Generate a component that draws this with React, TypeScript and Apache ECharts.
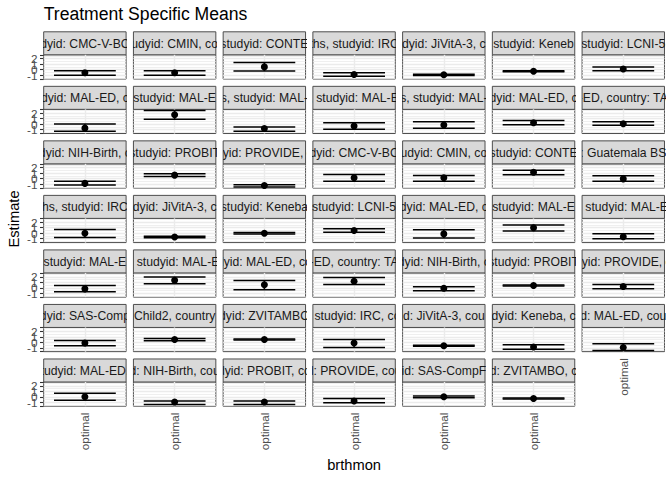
import React, { useEffect, useRef } from "react";
import * as echarts from "echarts";

// ---------- data ----------
const xCategories = ["optimal"];
const yTicks = [-1, 0, 1, 2];
const yMinorLines = [-1.5, -0.5, 0.5, 1.5, 2.5];

const stripLabels = [
  "dyid: CMC-V-BC", "udyid: CMIN, co", "studyid: CONTE", "ths, studyid: IRC", "dyid: JiVitA-3, c", "studyid: Keneb", "studyid: LCNI-5",
  "dyid: MAL-ED, c", "studyid: MAL-E", "s, studyid: MAL-", ", studyid: MAL-E", "s, studyid: MAL-", "dyid: MAL-ED, c", "-ED, country: TA",
  "dyid: NIH-Birth, c", "studyid: PROBIT", "dyid: PROVIDE, c", "dyid: CMC-V-BC", "udyid: CMIN, co", "studyid: CONTE", ": Guatemala BS",
  "hs, studyid: IRC", "dyid: JiVitA-3, c", "studyid: Keneba", "studyid: LCNI-5", "dyid: MAL-ED, c", "studyid: MAL-E", ", studyid: MAL-E",
  "studyid: MAL-E", ", studyid: MAL-E", "dyid: MAL-ED, co", "-ED, country: TA", "dyid: NIH-Birth, c", "studyid: PROBIT", "dyid: PROVIDE, c",
  "dyid: SAS-Comp", "Child2, country", "dyid: ZVITAMBO", ", studyid: IRC, co", "d: JiVitA-3, cou", "dyid: Keneba, c", "d: MAL-ED, cou",
  "tudyid: MAL-ED,", "d: NIH-Birth, cou", "dyid: PROBIT, co", "d: PROVIDE, cou", "id: SAS-CompF", "d: ZVITAMBO, c",
];

const estimates = [
  -0.57, -0.57, 0.5, -0.87, -0.94, -0.3, 0.12,
  -0.72, 1.72, -0.8, -0.35, -0.16, 0.27, 0.09,
  -0.85, 0.65, -1.25, 0.16, 0.16, 1.16, -0.03,
  0.0, -0.68, 0.0, 0.5, -0.12, 1.0, -0.63,
  -0.2, 1.35, 0.54, 1.2, -0.1, 0.4, 0.22,
  -0.12, 0.5, 0.5, -0.12, -0.62, -0.87, -0.95,
  0.02, -0.95, -0.95, -0.75, 0.0, -0.3,
];
const lowerCI = [
  -1.0, -1.0, -0.25, -1.2, -1.05, -0.4, -0.2,
  -1.28, 0.9, -1.3, -0.9, -0.72, -0.1, -0.2,
  -1.15, 0.4, -1.5, -0.48, -0.48, 0.73, -0.48,
  -0.76, -0.8, -0.12, 0.2, -0.87, 0.4, -1.0,
  -0.72, 0.72, -0.34, 0.6, -0.53, 0.3, -0.2,
  -0.63, 0.3, 0.4, -0.94, -0.7, -1.25, -1.5,
  -0.63, -1.38, -1.38, -1.06, -0.15, -0.4,
];
const upperCI = [
  -0.2, -0.2, 1.3, -0.57, -0.85, -0.2, 0.5,
  0.03, 2.5, -0.5, 0.27, 0.46, 0.65, 0.46,
  -0.48, 0.9, -1.1, 0.78, 0.6, 1.53, 0.54,
  0.69, -0.55, 0.12, 0.8, 0.63, 1.5, -0.1,
  0.4, 1.96, 1.34, 1.85, 0.2, 0.5, 0.6,
  0.31, 0.7, 0.6, 0.5, -0.55, -0.44, -0.25,
  0.63, -0.76, -0.76, -0.3, 0.15, -0.2,
];

// ---------- layout / style ----------
const FONT = '"Liberation Sans", Arial, Helvetica, sans-serif';
const NCOL = 7;
const L0 = 43.7;
const COLW = 82.4;
const GAP = 7.33;
const T0 = 31.8;
const STRIPH = 23;
const PANELH = 24.2;
const ROWP = STRIPH + PANELH + GAP;
const Y_MIN = -1.7;
const Y_MAX = 2.7;
const BORDER = "#4D4D4D";
const GRIDCOL = "#EBEBEB";

const firstColGrids: number[] = [];

function buildOption() {
  const grids: any[] = [];
  const xAxes: any[] = [];
  const yAxes: any[] = [];
  const series: any[] = [];
  const N = estimates.length;
  firstColGrids.length = 0;

  estimates.forEach((est, i) => {
    const r = Math.floor(i / NCOL);
    const c = i % NCOL;
    const left = L0 + c * (COLW + GAP);
    const stripTop = T0 + r * ROWP;
    const panelTop = stripTop + STRIPH;
    const bottomPanel = i + NCOL >= N;

    // panel
    const gi = grids.length;
    if (c === 0) firstColGrids.push(gi);
    grids.push({
      left, top: panelTop, width: COLW, height: PANELH,
      show: true, backgroundColor: "#FFFFFF", borderColor: BORDER, borderWidth: 1, z: 0,
    });
    xAxes.push({
      type: "category", gridIndex: gi, data: xCategories, boundaryGap: true,
      axisLine: { show: false },
      axisTick: { show: bottomPanel, alignWithLabel: true, length: 3.7, lineStyle: { color: "#333333", width: 1.1 } },
      axisLabel: { show: bottomPanel, rotate: 90, margin: 6.5, color: "#4D4D4D", fontSize: 11.7, fontFamily: FONT },
      splitLine: { show: false },
    });
    yAxes.push({
      type: "value", gridIndex: gi, min: Y_MIN, max: Y_MAX,
      minInterval: 1, maxInterval: 1, splitNumber: 4,
      axisLine: { show: false },
      axisTick: { show: c === 0, length: 3.7, lineStyle: { color: "#333333", width: 1.1 } },
      axisLabel: { show: false },
      splitLine: { show: false },
    });

    const gridLines: any[] = [];
    yMinorLines.forEach((v) => gridLines.push({ yAxis: v, lineStyle: { color: GRIDCOL, width: 0.8, type: "solid" } }));
    yTicks.forEach((v) => gridLines.push({ yAxis: v, lineStyle: { color: GRIDCOL, width: 1.4, type: "solid" } }));
    gridLines.push({ xAxis: xCategories[0], lineStyle: { color: GRIDCOL, width: 1.4, type: "solid" } });

    series.push({
      type: "line", xAxisIndex: gi, yAxisIndex: gi, z: 1, silent: true,
      data: [[0, est]], showSymbol: false, symbol: "none", lineStyle: { opacity: 0 },
      markLine: { z: 1, silent: true, symbol: ["none", "none"], label: { show: false }, data: gridLines, animation: false },
    });

    series.push({
      type: "custom", xAxisIndex: gi, yAxisIndex: gi, z: 6, silent: true,
      data: [[0, est, lowerCI[i], upperCI[i]]],
      encode: { x: 0, y: [1, 2, 3] },
      renderItem: (_p: any, api: any) => {
        const x = api.value(0);
        const pLo = api.coord([x, api.value(2)]);
        const pHi = api.coord([x, api.value(3)]);
        const half = api.size([1, 0])[0] * 0.375;
        const style = { stroke: "#000000", lineWidth: 1.5 };
        return {
          type: "group",
          children: [
            { type: "line", shape: { x1: pLo[0] - half, y1: pLo[1], x2: pLo[0] + half, y2: pLo[1] }, style },
            { type: "line", shape: { x1: pHi[0] - half, y1: pHi[1], x2: pHi[0] + half, y2: pHi[1] }, style },
            { type: "line", shape: { x1: pLo[0], y1: pLo[1], x2: pHi[0], y2: pHi[1] }, style },
          ],
        };
      },
    });

    series.push({
      type: "scatter", xAxisIndex: gi, yAxisIndex: gi, z: 7, silent: true,
      data: [[0, est]], symbol: "circle", symbolSize: 7,
      itemStyle: { color: "#000000", opacity: 1 },
    });

    // strip
    const si = grids.length;
    grids.push({
      left, top: stripTop, width: COLW, height: STRIPH,
      show: true, backgroundColor: "#D9D9D9", borderColor: BORDER, borderWidth: 1,
    });
    xAxes.push({ type: "value", gridIndex: si, min: 0, max: 1, show: false });
    yAxes.push({ type: "value", gridIndex: si, min: 0, max: 1, show: false });
    const label = stripLabels[i];
    series.push({
      type: "custom", xAxisIndex: si, yAxisIndex: si, clip: true, silent: true, z: 2,
      data: [[0.5, 0.5]],
      renderItem: (_p: any, api: any) => {
        const pt = api.coord([0.5, 0.5]);
        return {
          type: "text", x: pt[0], y: pt[1] + 0.5,
          style: { text: label, align: "center", verticalAlign: "middle", fill: "#1A1A1A", fontSize: 12.2, fontFamily: FONT },
        };
      },
    });
  });

  const panelsCenterY = (T0 + 6 * ROWP + STRIPH + PANELH + T0) / 2;
  const panelsCenterX = (L0 + L0 + NCOL * COLW + (NCOL - 1) * GAP) / 2;

  return {
    animation: false,
    backgroundColor: "#FFFFFF",
    grid: grids,
    xAxis: xAxes,
    yAxis: yAxes,
    series,
    graphic: [
      {
        type: "text", left: L0, top: 5,
        style: { text: "Treatment Specific Means", fill: "#000000", fontSize: 17.6, fontFamily: FONT },
      },
      {
        type: "text", x: 13.5, y: panelsCenterY, rotation: Math.PI / 2,
        style: { text: "Estimate", align: "center", verticalAlign: "middle", fill: "#000000", fontSize: 14.7, fontFamily: FONT },
      },
      {
        type: "text", x: panelsCenterX, y: 465,
        style: { text: "brthmon", align: "center", verticalAlign: "middle", fill: "#000000", fontSize: 14.7, fontFamily: FONT },
      },
    ],
  };
}

export default function App() {
  const ref = useRef<HTMLDivElement>(null);
  useEffect(() => {
    if (!ref.current) return;
    const chart = echarts.init(ref.current, null, { renderer: "svg" });
    const option: any = buildOption();
    chart.setOption(option);
    // y tick labels placed through each first-column panel's own y scale
    const tickLabels: any[] = [];
    firstColGrids.forEach((gi) => {
      yTicks.forEach((v) => {
        const p = chart.convertToPixel({ gridIndex: gi } as any, [0, v]) as any;
        if (!p) return;
        tickLabels.push({
          type: "text", x: L0 - 3.7 - 2.6, y: p[1],
          style: { text: String(v), align: "right", verticalAlign: "middle", fill: "#4D4D4D", fontSize: 11.7, fontFamily: FONT },
        });
      });
    });
    chart.setOption({ graphic: [...option.graphic, ...tickLabels] });
    return () => chart.dispose();
  }, []);
  return (
    <div
      ref={ref}
      style={{ position: "absolute", left: 0, top: 0, width: 672, height: 480, background: "#FFFFFF" }}
    />
  );
}
